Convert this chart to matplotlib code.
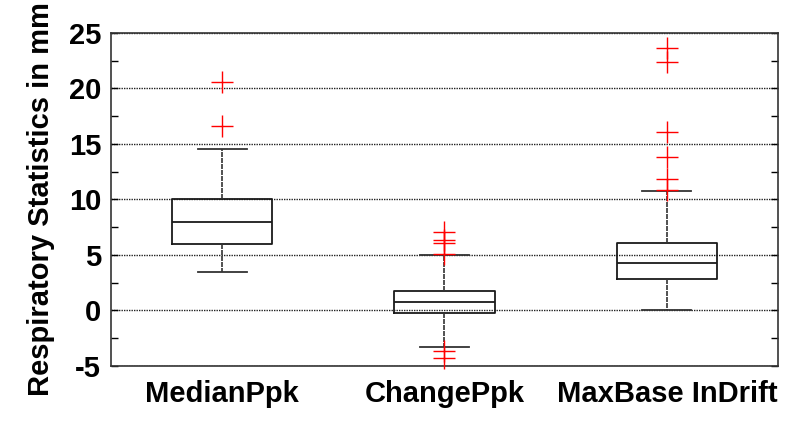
import matplotlib
matplotlib.use("Agg")
import matplotlib.pyplot as plt
from matplotlib.ticker import MultipleLocator

plt.rcParams['font.family'] = ['Liberation Sans', 'DejaVu Sans']
plt.rcParams['axes.unicode_minus'] = False

categories = ["MedianPpk", "ChangePpk", "MaxBase InDrift"]
q1 = [6.0, -0.27, 2.8]
median = [8.0, 0.75, 4.25]
q3 = [10.0, 1.73, 6.05]
whisker_low = [3.5, -3.27, 0.0]
whisker_high = [14.5, 5.0, 10.8]
outliers = [
    [16.6, 20.6],
    [5.1, 6.05, 6.35, 7.05, -3.7, -4.25],
    [10.85, 11.8, 13.8, 16.1, 22.4, 23.6],
]

stats = []
for i, name in enumerate(categories):
    stats.append(dict(label=name, q1=q1[i], med=median[i], q3=q3[i],
                      whislo=whisker_low[i], whishi=whisker_high[i],
                      fliers=outliers[i]))

fig = plt.figure(figsize=(7.87, 4.22), dpi=100)
ax = fig.add_axes([0.141, 0.133, 0.8476, 0.789])

line_col = "#1a1a1a"
ax.bxp(stats, positions=[1, 2, 3], widths=0.45,
       boxprops=dict(color=line_col, linewidth=1.3),
       medianprops=dict(color=line_col, linewidth=1.3),
       whiskerprops=dict(color="#333333", linewidth=1.2, linestyle=(0, (3, 0.6))),
       capprops=dict(color="#333333", linewidth=1.3),
       flierprops=dict(marker="+", markeredgecolor="red", markersize=16,
                       markeredgewidth=1.0, linestyle="none"),
       capwidths=0.22, zorder=3)

for line in ax.lines:
    line.set_clip_on(False)

ax.set_xlim(0.5, 3.5)
ax.set_ylim(-5, 25)
ax.yaxis.set_major_locator(MultipleLocator(5))
ax.yaxis.set_minor_locator(MultipleLocator(2.5))
ax.grid(axis="y", which="major", color="#222222", linestyle=(0, (1, 0.8)),
        linewidth=1.0, zorder=1)
ax.tick_params(axis="y", which="both", direction="in", left=True, right=True,
               labelsize=21, width=1.0, pad=7)
ax.tick_params(axis="y", which="major", length=5)
ax.tick_params(axis="y", which="minor", length=5)
ax.tick_params(axis="x", length=0, labelsize=21, pad=10)
for lbl in ax.get_yticklabels() + ax.get_xticklabels():
    lbl.set_fontweight("bold")
ax.set_xticks([1, 2, 3])
ax.set_xticklabels(categories)

for sp in ax.spines.values():
    sp.set_color("#333333")
    sp.set_linewidth(1.2)

ax.set_ylabel("Respiratory Statistics in mm", fontsize=21, fontweight="bold",
              labelpad=10)

fig.savefig("out.png", dpi=100)
